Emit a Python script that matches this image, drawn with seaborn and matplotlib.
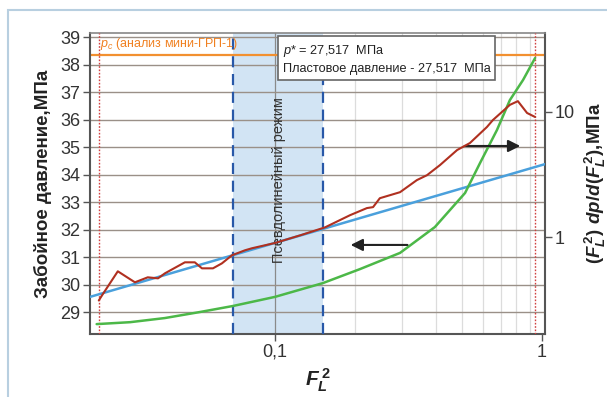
import numpy as np
import pandas as pd
import matplotlib
matplotlib.use("Agg")
import matplotlib.pyplot as plt
import seaborn as sns
from matplotlib.patches import Rectangle

# ---- data ----
red_x = [0.0219, 0.0225, 0.0258, 0.0299, 0.0334, 0.0365, 0.0387, 0.0460, 0.0501,
         0.0533, 0.0586, 0.0633, 0.0690, 0.0772, 0.0820, 0.100, 0.125, 0.154,
         0.191, 0.221, 0.233, 0.247, 0.294, 0.340, 0.371, 0.415, 0.481, 0.537,
         0.622, 0.655, 0.758, 0.812, 0.879, 0.942]
red_y = [0.313, 0.343, 0.535, 0.437, 0.479, 0.470, 0.515, 0.631, 0.631,
         0.565, 0.565, 0.619, 0.718, 0.787, 0.817, 0.90, 1.04, 1.20,
         1.50, 1.71, 1.74, 2.05, 2.29, 2.86, 3.13, 3.77, 4.97, 5.65,
         7.59, 8.63, 11.4, 12.2, 9.82, 9.12]

green_x = [0.0215, 0.0287, 0.0387, 0.0524, 0.0697, 0.100, 0.151, 0.208, 0.294,
           0.397, 0.515, 0.586, 0.678, 0.758, 0.849, 0.942]
green_y = [28.56, 28.63, 28.78, 29.00, 29.22, 29.55, 30.05, 30.56, 31.15,
           32.09, 33.33, 34.42, 35.62, 36.71, 37.44, 38.24]

blue_x = [0.0203, 1.026]
blue_y = [29.55, 34.38]

pc_level = 38.35
region = [0.0697, 0.151]
limit_lines = [0.0219, 0.942]

left_ticks = [29, 30, 31, 32, 33, 34, 35, 36, 37, 38, 39]
x_ticks = [0.1, 1]
x_ticklabels = ["0,1", "1"]
right_ticks = [1, 10]
right_ticklabels = ["1", "10"]

sns.set_theme(style="white")
plt.rcParams["font.family"] = ["Liberation Sans Narrow", "Liberation Sans", "DejaVu Sans"]
plt.rcParams["mathtext.fontset"] = "custom"
plt.rcParams["mathtext.it"] = "Liberation Sans:italic:bold"
plt.rcParams["mathtext.rm"] = "Liberation Sans:bold"
plt.rcParams["mathtext.bf"] = "Liberation Sans:bold"
plt.rcParams["mathtext.sf"] = "Liberation Sans:italic"

fig = plt.figure(figsize=(6.07, 3.97), dpi=100)
# light-blue frame around the figure
fig.patches.append(Rectangle((8 / 607, -0.1), 1.2, 1.1 - 10 / 397,
                             transform=fig.transFigure, fill=False,
                             ec="#b8cfe0", lw=1.5, zorder=0))
ax = fig.add_axes([90 / 607, 1 - 334 / 397, 455 / 607, 301 / 397])
ax.set_xscale("log")
ax.set_xlim(0.0203, 1.026)
ax.set_ylim(28.2, 39.15)

# shaded pseudo-linear region
ax.axvspan(region[0], region[1], color="#d2e4f4", zorder=0.2, lw=0)
for xv in region:
    ax.axvline(xv, color="#2858a8", ls=(0, (5, 3)), lw=1.6, zorder=3)
for xv in limit_lines:
    ax.axvline(xv, color="#d04040", ls=(0, (1.2, 1.2)), lw=1.0, zorder=3)

# grids
for yv in left_ticks:
    ax.axhline(yv, color="#9a9088", lw=1.0, zorder=0.5)
for xv in [0.2, 0.3, 0.4, 0.5, 0.6, 0.7, 0.8, 0.9]:
    ax.axvline(xv, color="#dcdcdc", lw=0.9, zorder=0.4)
ax.axvline(0.1, color="#8a8a8a", lw=0.9, zorder=0.4)

ax.axhline(pc_level, color="#f29030", lw=1.6, zorder=2)

sns.lineplot(x=blue_x, y=blue_y, ax=ax, color="#4aa0dc", lw=1.8, zorder=4)
sns.lineplot(x=green_x, y=green_y, ax=ax, color="#4cb848", lw=1.8, zorder=4)

ax.set_yticks(left_ticks)
ax.set_yticklabels([str(t) for t in left_ticks])
ax.set_xticks(x_ticks)
ax.set_xticklabels(x_ticklabels)
ax.xaxis.set_minor_locator(matplotlib.ticker.NullLocator())
ax.tick_params(axis="both", which="major", labelsize=13, length=5, width=1,
               color="#555555", direction="out", left=True, bottom=True, pad=2,
               labelcolor="#333333")
for s in ["left", "bottom", "right"]:
    ax.spines[s].set_color("#555555")
    ax.spines[s].set_linewidth(1.5)
ax.spines["top"].set_color("#888888")
ax.spines["top"].set_linewidth(1.2)
ax.set_xlabel(r"$F_L^{\,2}$", fontsize=15, labelpad=4, color="#222222")
ax.set_ylabel("Забойное давление,МПа", fontsize=13.5, fontweight="bold",
              color="#222222", labelpad=6)

ax2 = ax.twinx()
ax2.set_yscale("log")
ax2.set_ylim(0.169, 42.7)
sns.lineplot(x=red_x, y=red_y, ax=ax2, color="#b03020", lw=1.5, zorder=4)
ax2.set_yticks(right_ticks)
ax2.set_yticklabels(right_ticklabels)
ax2.yaxis.set_minor_locator(matplotlib.ticker.NullLocator())
ax2.tick_params(axis="y", which="major", labelsize=13, length=5, width=1,
                color="#555555", direction="out", right=True, pad=2,
                labelcolor="#333333")
for s in ax2.spines.values():
    s.set_visible(False)
ax2.set_ylabel(r"$(F_L^{\,2})\ dp/d(F_L^{\,2})$,МПа", fontsize=13.5,
               fontweight="bold", color="#222222", labelpad=6)

# annotations
ax.text(0.0222, 38.45, r"$\mathsf{p}_\mathsf{c}$ (анализ мини-ГРП-1)", color="#f08020",
        fontsize=9, va="bottom", ha="left", zorder=5)
ax.text(0.107, 38.8, r"$\mathsf{p}$* = 27,517  МПа" + "\nПластовое давление - 27,517  МПа",
        fontsize=9.2, va="top", ha="left", color="#222222", linespacing=1.5, zorder=6,
        bbox=dict(boxstyle="square,pad=0.35", fc="white", ec="#666666", lw=1.2))
ax.text(0.1035, 33.8, "Псевдолинейный режим", rotation=90, fontsize=10.5,
        color="#333333", ha="center", va="center", zorder=5)
ax.annotate("", xy=(0.849, 35.04), xytext=(0.501, 35.04),
            arrowprops=dict(arrowstyle="-|>", mutation_scale=18, lw=1.5, color="#222222"),
            zorder=6)
ax.annotate("", xy=(0.1875, 31.44), xytext=(0.321, 31.44),
            arrowprops=dict(arrowstyle="-|>", mutation_scale=18, lw=1.5, color="#222222"),
            zorder=6)

fig.savefig("out.png", dpi=100)
